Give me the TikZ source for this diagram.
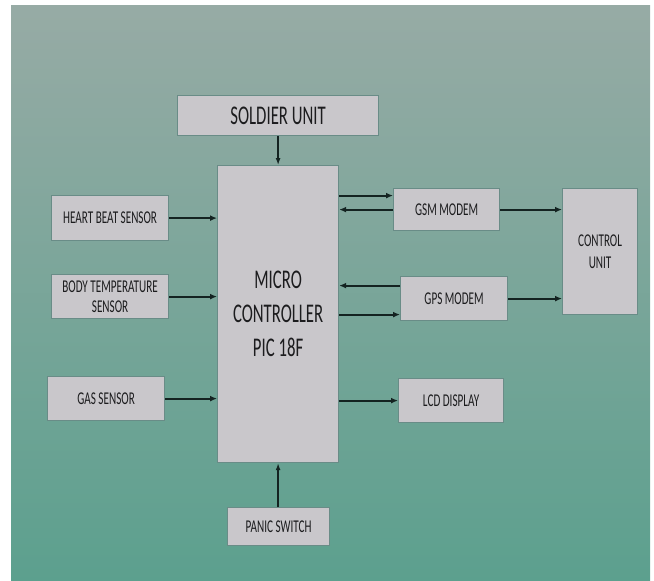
\documentclass[tikz,border=0pt]{standalone}
\usepackage{fontspec}
\setmainfont[FakeStretch=0.62]{Carlito}
\usetikzlibrary{arrows.meta,calc}
\definecolor{bgtop}{RGB}{151,171,165}
\definecolor{bgbot}{RGB}{92,160,142}
\definecolor{boxfill}{RGB}{201,199,203}
\definecolor{boxline}{RGB}{105,140,135}
\definecolor{txt}{RGB}{28,28,30}
\definecolor{arr}{RGB}{20,35,33}
\tikzset{
  blk/.style={draw=boxline, line width=1.2pt, fill=boxfill, anchor=north west,
    inner sep=0pt, align=center, text=txt, font=\fontsize{18}{21}\selectfont},
  bigblk/.style={blk, font=\fontsize{27}{34}\selectfont},
  conn/.style={draw=arr, line width=1.8pt, -{Latex[length=7pt,width=6pt]}},
  thinconn/.style={draw=arr, line width=1.3pt, -{Latex[length=7pt,width=5pt]}}
}
\begin{document}
\begin{tikzpicture}[x=1pt,y=-1pt]
\useasboundingbox (0,0) rectangle (654,581);
\shade[top color=bgtop, bottom color=bgbot] (11,5) rectangle (650,581);

\node[bigblk, minimum width=201pt, minimum height=40pt] (sol) at (177,95) {SOLDIER UNIT};
\node[bigblk, minimum width=121pt, minimum height=297pt] (mc) at (217,165) {MICRO\\CONTROLLER\\PIC 18F};
\node[blk, minimum width=102pt, minimum height=38pt] (pan) at (227,507) {PANIC SWITCH};
\node[blk, minimum width=117pt, minimum height=45pt] (hb) at (51,195) {HEART BEAT SENSOR};
\node[blk, minimum width=117pt, minimum height=44pt, font=\fontsize{18}{20}\selectfont] (bt) at (51,274) {BODY TEMPERATURE\\SENSOR};
\node[blk, minimum width=117pt, minimum height=44pt] (gas) at (47,376) {GAS SENSOR};
\node[blk, minimum width=106pt, minimum height=42pt] (gsm) at (393,188) {GSM MODEM};
\node[blk, minimum width=107pt, minimum height=44pt] (gps) at (400,276) {GPS MODEM};
\node[blk, minimum width=105pt, minimum height=44pt] (lcd) at (398,378) {LCD DISPLAY};
\node[blk, minimum width=75pt, minimum height=126pt, font=\fontsize{18}{22}\selectfont] (cu) at (562,188) {CONTROL\\UNIT};

\draw[thinconn] (sol.south -| mc.north) -- (mc.north);
\draw[thinconn] (pan.north -| mc.south) -- (mc.south);

\draw[conn] (hb.east) -- (hb.east -| mc.west);
\draw[conn] (bt.east) -- (bt.east -| mc.west);
\draw[conn] (gas.east) -- (gas.east -| mc.west);

\coordinate (g1) at ($(gsm.west)+(0,-14)$);
\draw[conn] (g1 -| mc.east) -- (g1);
\draw[conn] (gsm.west) -- (gsm.west -| mc.east);
\draw[conn] (gsm.east) -- (gsm.east -| cu.west);

\coordinate (p1) at ($(gps.west)+(0,-13)$);
\coordinate (p2) at ($(gps.west)+(0,16)$);
\draw[conn] (p1) -- (p1 -| mc.east);
\draw[conn] (p2 -| mc.east) -- (p2);
\draw[conn] (gps.east) -- (gps.east -| cu.west);

\draw[conn] (lcd.west -| mc.east) -- (lcd.west);
\end{tikzpicture}
\end{document}
